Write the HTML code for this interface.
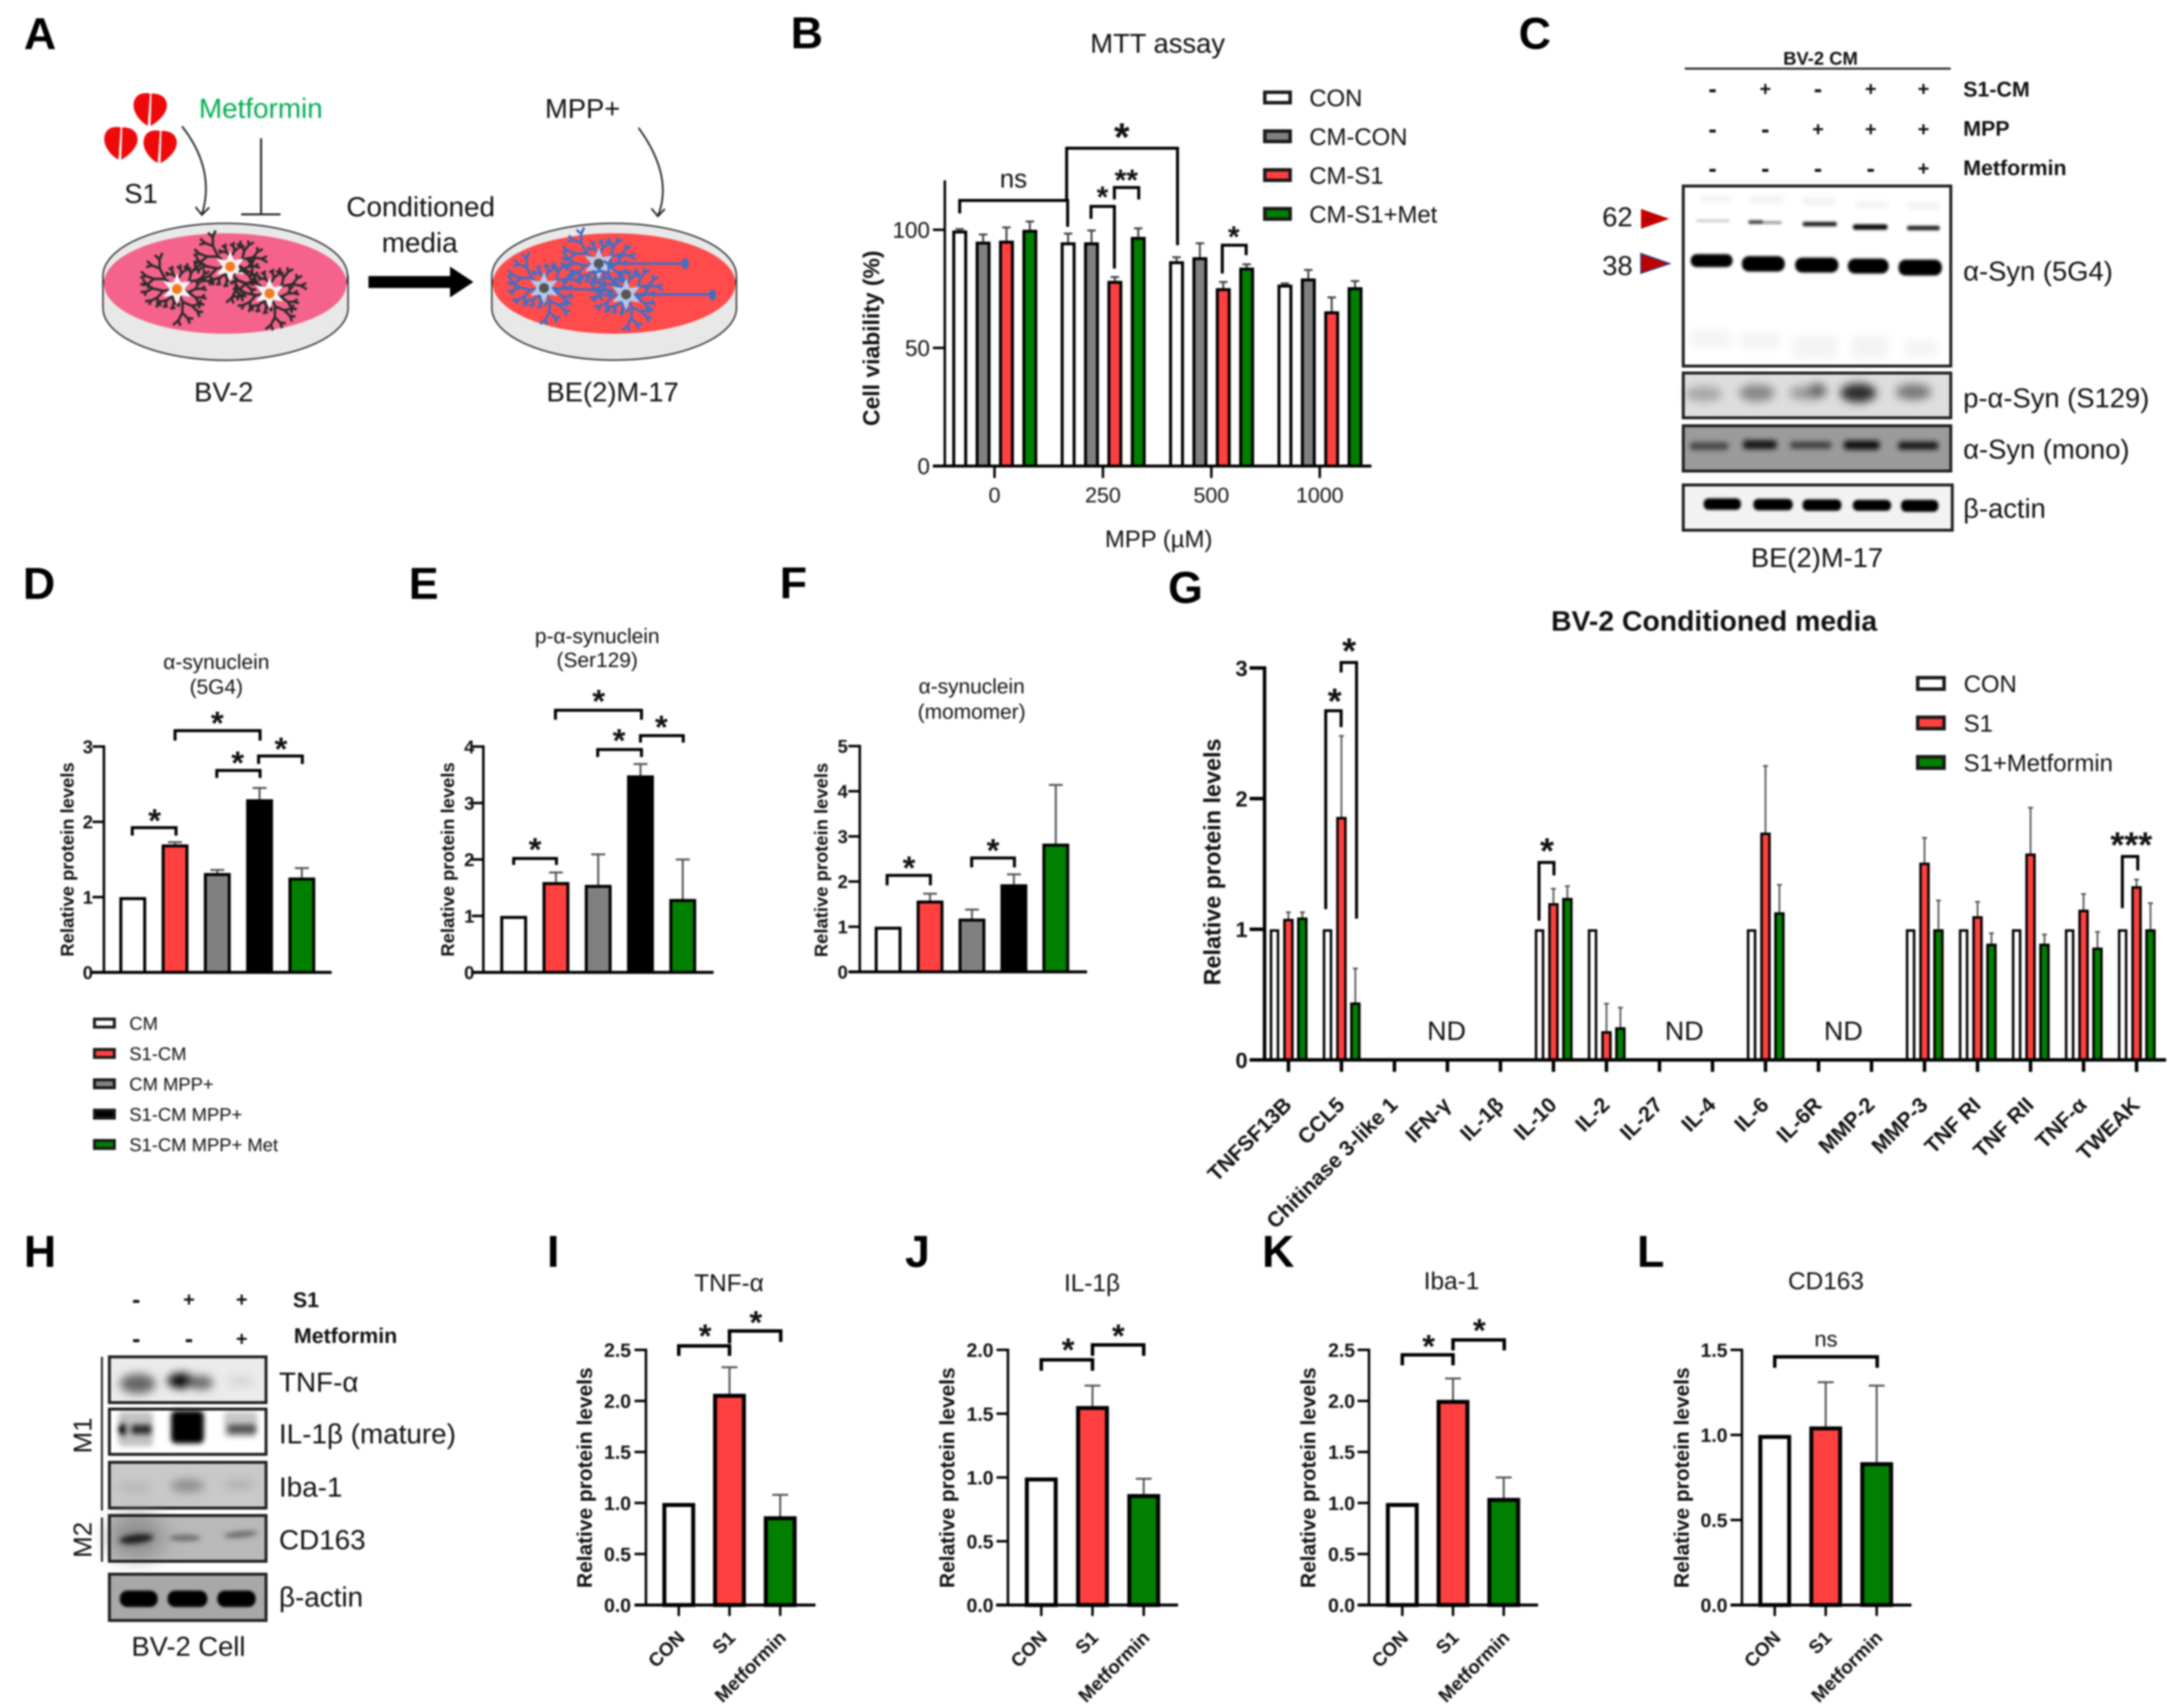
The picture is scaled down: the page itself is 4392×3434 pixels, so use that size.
<!DOCTYPE html>
<html lang="en">
<head>
<meta charset="utf-8">
<title>Metformin and S1 conditioned media figure</title>
<style>
html,body{margin:0;padding:0;background:#fff;}
svg#figure{display:block;font-family:"Liberation Sans",sans-serif;fill:#111;filter:blur(1.8px);}
.reg{font-size:55px;}
.bld{font-weight:bold;}
.letter{font-size:90px;font-weight:bold;fill:#000;}
.mid{text-anchor:middle;}
.frame{fill:none;stroke:#222;stroke-width:6;}
</style>
</head>
<body>
<svg id="figure" xmlns="http://www.w3.org/2000/svg" width="4392" height="3434" viewBox="0 0 4392 3434">
<defs>
<filter id="b2" x="-30%" y="-60%" width="160%" height="220%"><feGaussianBlur stdDeviation="2.5"/></filter>
<filter id="b5" x="-40%" y="-80%" width="180%" height="260%"><feGaussianBlur stdDeviation="5"/></filter>
<filter id="b9" x="-50%" y="-100%" width="200%" height="300%"><feGaussianBlur stdDeviation="9"/></filter>
<filter id="b20" x="-50%" y="-100%" width="200%" height="300%"><feGaussianBlur stdDeviation="20"/></filter>
</defs>
<rect x="0" y="0" width="4392" height="3434" fill="#fff"/>

<g>
<text class="letter" x="48" y="99">A</text>
<text class="letter" x="1590" y="97">B</text>
<text class="letter" x="3054" y="98">C</text>
<text class="letter" x="46" y="1204">D</text>
<text class="letter" x="822" y="1204">E</text>
<text class="letter" x="1568" y="1203">F</text>
<text class="letter" x="2349" y="1212">G</text>
<text class="letter" x="48" y="2547">H</text>
<text class="letter" x="1100" y="2547">I</text>
<text class="letter" x="1820" y="2547">J</text>
<text class="letter" x="2538" y="2547">K</text>
<text class="letter" x="3292" y="2547">L</text>
</g>

<!-- PANEL A -->
<g id="panelA">
  <g fill="#ee0a0a">
    <g transform="translate(301,220) rotate(4)">
      <path d="M-1.5,-32 C-20,-34 -33,-26 -33,-8 C-33,8 -18,26 -1.5,33 Z"/><path d="M1.5,-32 C20,-34 34,-26 34,-8 C34,8 16,26 4,33 Z"/>
    </g>
    <g transform="translate(242,288) rotate(4)">
      <path d="M-1.5,-32 C-20,-34 -33,-26 -33,-8 C-33,8 -18,26 -1.5,33 Z"/><path d="M1.5,-32 C20,-34 34,-26 34,-8 C34,8 16,26 4,33 Z"/>
    </g>
    <g transform="translate(321,295) rotate(4)">
      <path d="M-1.5,-32 C-20,-34 -33,-26 -33,-8 C-33,8 -18,26 -1.5,33 Z"/><path d="M1.5,-32 C20,-34 34,-26 34,-8 C34,8 16,26 4,33 Z"/>
    </g>
  </g>
  <text x="250" y="408" font-size="55">S1</text>
  <text x="400" y="237" font-size="56" fill="#00b050" style="fill:#00b050">Metformin</text>
  <text x="1096" y="237" font-size="55">MPP+</text>
  <path d="M366,254 C410,310 425,370 406,431 M393,416 L406,432 L421,417" fill="none" stroke="#222" stroke-width="3.5"/>
  <path d="M525,278 V431 M485,431 H564" fill="none" stroke="#222" stroke-width="4"/>
  <path d="M1284,257 C1330,320 1345,380 1323,434 M1310,419 L1323,435 L1337,420" fill="none" stroke="#222" stroke-width="3.5"/>
  <g>
    <path d="M207,555 V619 A246,105 0 0 0 700,619 V555 Z" fill="#e8e8e8" stroke="#333" stroke-width="3"/>
    <ellipse cx="453" cy="555" rx="246" ry="106" fill="#e8e8e8" stroke="#333" stroke-width="3"/>
    <ellipse cx="453" cy="570" rx="244" ry="101" fill="#f5638c"/>
    <g id="microglia"></g>
  </g>
  <g>
    <path d="M989,555 V619 A246,105 0 0 0 1481,619 V555 Z" fill="#e8e8e8" stroke="#333" stroke-width="3"/>
    <ellipse cx="1235" cy="555" rx="246" ry="106" fill="#e8e8e8" stroke="#333" stroke-width="3"/>
    <ellipse cx="1235" cy="570" rx="244" ry="101" fill="#ff4b4b"/>
    <g id="neurons"></g>
  </g>
  <path d="M741,555 H905 V536 L952,567 L905,598 V579 H741 Z" fill="#000"/>
  <text class="mid" x="846" y="435" font-size="56">Conditioned</text>
  <text class="mid" x="844" y="507" font-size="56">media</text>
  <text class="mid" x="450" y="807" font-size="55">BV-2</text>
  <text class="mid" x="1232" y="807" font-size="55">BE(2)M-17</text>
</g>

<!-- PANEL B static -->
<g id="panelB">
  <text class="mid" x="2328" y="106" font-size="55">MTT assay</text>
  <text class="mid" x="2330" y="1100" font-size="48">MPP (µM)</text>
  <text class="mid bld" transform="translate(1768,680) rotate(-90)" font-size="46">Cell viability (%)</text>
</g>

<!-- PANEL C -->
<g id="panelC">
  <text class="mid bld" x="3661" y="130" font-size="37">BV-2 CM</text>
  <line x1="3388" x2="3923" y1="138" y2="138" stroke="#222" stroke-width="4"/>
  <text class="bld" x="3948" y="194" font-size="43">S1-CM</text>
  <text class="bld" x="3948" y="273" font-size="43">MPP</text>
  <text class="bld" x="3948" y="352" font-size="43">Metformin</text>
  <g id="cSigns"></g>

  <g>
    <rect x="3385" y="374" width="538" height="362" fill="#fff"/>
    <g filter="url(#b5)" fill="#f1f1f1">
      <rect x="3420" y="394" width="60" height="12"/><rect x="3520" y="394" width="66" height="14"/><rect x="3625" y="398" width="66" height="14"/><rect x="3730" y="406" width="66" height="12"/><rect x="3835" y="408" width="66" height="12"/>
    </g>
    <g filter="url(#b9)" fill="#f3f3f3">
      <rect x="3398" y="665" width="82" height="32"/><rect x="3500" y="670" width="80" height="30"/><rect x="3605" y="675" width="90" height="45"/><rect x="3725" y="675" width="72" height="45"/><rect x="3830" y="685" width="66" height="30"/>
    </g>
    <g filter="url(#b2)">
      <rect x="3412" y="442" width="66" height="4" fill="#bbb"/>
      <rect x="3516" y="443" width="30" height="7" rx="3" fill="#333"/>
      <rect x="3546" y="445" width="37" height="5" rx="2" fill="#888"/>
      <rect x="3625" y="446" width="69" height="9" rx="4" fill="#222"/>
      <rect x="3726" y="451" width="70" height="11" rx="5" fill="#0c0c0c"/>
      <rect x="3835" y="454" width="66" height="9" rx="4" fill="#222"/>
    </g>
    <g filter="url(#b2)" fill="#000">
      <rect x="3400" y="511" width="84" height="26" rx="12"/>
      <rect x="3503" y="515" width="86" height="31" rx="14"/>
      <rect x="3610" y="518" width="87" height="30" rx="14"/>
      <rect x="3716" y="520" width="82" height="30" rx="14"/>
      <rect x="3818" y="522" width="87" height="32" rx="14"/>
    </g>
    <rect class="frame" x="3385" y="374" width="538" height="362"/>
  </g>
  <g>
    <rect x="3385" y="750" width="538" height="90" fill="#dedede"/>
    <g filter="url(#b9)">
      <ellipse cx="3426" cy="792" rx="38" ry="15" fill="#a5a5a5"/>
      <ellipse cx="3533" cy="790" rx="36" ry="17" fill="#858585"/>
      <ellipse cx="3635" cy="790" rx="38" ry="14" fill="#999"/>
      <ellipse cx="3655" cy="785" rx="18" ry="14" fill="#666"/>
      <ellipse cx="3737" cy="790" rx="36" ry="19" fill="#2a2a2a"/>
      <ellipse cx="3848" cy="788" rx="36" ry="16" fill="#777"/>
    </g>
    <rect class="frame" x="3385" y="750" width="538" height="90"/>
  </g>
  <g>
    <rect x="3385" y="856" width="538" height="91" fill="#9b9b9b"/>
    <g filter="url(#b5)">
      <rect x="3398" y="889" width="78" height="16" rx="7" fill="#4a4a4a"/>
      <rect x="3505" y="885" width="68" height="18" rx="7" fill="#181818"/>
      <rect x="3600" y="888" width="83" height="14" rx="6" fill="#3c3c3c"/>
      <rect x="3708" y="886" width="72" height="18" rx="7" fill="#111"/>
      <rect x="3817" y="888" width="81" height="16" rx="7" fill="#181818"/>
    </g>
    <rect class="frame" x="3385" y="856" width="538" height="91"/>
  </g>
  <g>
    <rect x="3385" y="975" width="541" height="91" fill="#f2f2f2"/>
    <g filter="url(#b2)" fill="#050505">
      <rect x="3426" y="1002" width="75" height="23" rx="10"/>
      <rect x="3526" y="1003" width="79" height="23" rx="10"/>
      <rect x="3625" y="1004" width="78" height="23" rx="10"/>
      <rect x="3726" y="1005" width="77" height="22" rx="10"/>
      <rect x="3823" y="1005" width="75" height="24" rx="10"/>
    </g>
    <rect class="frame" x="3385" y="975" width="541" height="91"/>
  </g>
  <text x="3222" y="455" font-size="55">62</text>
  <text x="3222" y="553" font-size="55">38</text>
  <path d="M3300,420 L3357,440 L3300,460 Z" fill="#c00000"/>
  <path d="M3300,510 L3357,530 L3300,549 Z" fill="#c00000" stroke="#333a70" stroke-width="3"/>
  <text x="3948" y="564" font-size="55">α-Syn (5G4)</text>
  <text x="3948" y="819" font-size="55">p-α-Syn (S129)</text>
  <text x="3948" y="922" font-size="55">α-Syn (mono)</text>
  <text x="3948" y="1041" font-size="55">β-actin</text>
  <text class="mid" x="3654" y="1140" font-size="55">BE(2)M-17</text>
</g>

<!-- PANEL D/E/F titles -->
<g>
  <text class="mid" x="435" y="1345" font-size="42">α-synuclein</text>
  <text class="mid" x="435" y="1395" font-size="42">(5G4)</text>
</g>
<g>
  <text class="mid" x="1201" y="1293" font-size="42">p-α-synuclein</text>
  <text class="mid" x="1201" y="1341" font-size="42">(Ser129)</text>
</g>
<g>
  <text class="mid" x="1954" y="1394" font-size="42">α-synuclein</text>
  <text class="mid" x="1954" y="1445" font-size="42">(momomer)</text>
</g>
<text class="mid bld" x="3447" y="1268" font-size="57">BV-2 Conditioned media</text>

<!-- PANEL H -->
<g id="panelH">
  <g id="hSigns"></g>
  <text class="bld" x="589" y="2628" font-size="43">S1</text>
  <text class="bld" x="591" y="2700" font-size="43">Metformin</text>
  <g>
    <rect x="220" y="2728" width="315" height="92" fill="#ebebeb"/>
    <g filter="url(#b9)">
      <ellipse cx="277" cy="2782" rx="36" ry="20" fill="#666"/>
      <ellipse cx="365" cy="2776" rx="28" ry="15" fill="#000"/>
      <ellipse cx="405" cy="2780" rx="24" ry="14" fill="#666"/>
      <ellipse cx="484" cy="2777" rx="28" ry="10" fill="#d4d4d4"/>
    </g>
    <rect class="frame" x="220" y="2728" width="315" height="92"/>
  </g>
  <g>
    <rect x="220" y="2833" width="315" height="91" fill="#fff"/>
    <g filter="url(#b5)">
      <rect x="238" y="2838" width="70" height="70" rx="10" fill="#c2c2c2"/>
      <rect x="238" y="2860" width="18" height="28" rx="8" fill="#000"/>
      <rect x="262" y="2862" width="44" height="24" rx="8" fill="#333"/>
      <rect x="344" y="2836" width="66" height="66" rx="10" fill="#050505"/>
      <rect x="450" y="2838" width="68" height="52" rx="10" fill="#c8c8c8"/>
      <rect x="456" y="2862" width="60" height="22" rx="10" fill="#5a5a5a"/>
    </g>
    <rect class="frame" x="220" y="2833" width="315" height="91"/>
  </g>
  <g>
    <rect x="220" y="2940" width="315" height="92" fill="#c9c9c9"/>
    <g filter="url(#b9)">
      <ellipse cx="273" cy="2990" rx="36" ry="9" fill="#b4b4b4"/>
      <ellipse cx="377" cy="2987" rx="34" ry="13" fill="#8c8c8c"/>
      <ellipse cx="481" cy="2985" rx="32" ry="9" fill="#aeaeae"/>
    </g>
    <rect class="frame" x="220" y="2940" width="315" height="92"/>
  </g>
  <g>
    <rect x="220" y="3047" width="315" height="92" fill="#b9b9b9"/>
    <ellipse cx="275" cy="3090" rx="55" ry="42" fill="#8d8d8d" filter="url(#b20)"/>
    <g filter="url(#b5)">
      <ellipse cx="274" cy="3094" rx="34" ry="9" fill="#1c1c1c" transform="rotate(-6 274 3094)"/>
      <ellipse cx="372" cy="3092" rx="32" ry="6" fill="#666"/>
      <ellipse cx="484" cy="3085" rx="34" ry="6" fill="#666" transform="rotate(-5 484 3085)"/>
    </g>
    <rect class="frame" x="220" y="3047" width="315" height="92"/>
  </g>
  <g>
    <rect x="220" y="3165" width="315" height="93" fill="#a8a8a8"/>
    <g filter="url(#b2)" fill="#040404">
      <rect x="241" y="3198" width="76" height="33" rx="15"/>
      <rect x="337" y="3198" width="80" height="33" rx="15"/>
      <rect x="437" y="3198" width="77" height="33" rx="15"/>
    </g>
    <rect class="frame" x="220" y="3165" width="315" height="93"/>
  </g>
  <line x1="205" x2="205" y1="2728" y2="3037" stroke="#222" stroke-width="4"/>
  <line x1="205" x2="205" y1="3051" y2="3140" stroke="#222" stroke-width="4"/>
  <text class="mid" transform="translate(184,2886) rotate(-90)" font-size="52">M1</text>
  <text class="mid" transform="translate(184,3096) rotate(-90)" font-size="52">M2</text>
  <text x="561" y="2798" font-size="56">TNF-α</text>
  <text x="561" y="2902" font-size="56">IL-1β (mature)</text>
  <text x="561" y="3009" font-size="56">Iba-1</text>
  <text x="561" y="3115" font-size="56">CD163</text>
  <text x="561" y="3230" font-size="56">β-actin</text>
  <text class="mid" x="379" y="3329" font-size="55">BV-2 Cell</text>
</g>

<g id="charts"></g>
</svg>

<script>
/* ---------- chart data ---------- */
const bCategories = ['0','250','500','1000'];
const bSeriesNames = ['CON','CM-CON','CM-S1','CM-S1+Met'];
const bCon = [99.7,94.7,86.7,76.8];
const bCmCon = [95,94.7,88.4,79.4];
const bCmS1 = [95.4,78.4,75.3,65.5];
const bCmS1Met = [100,97,84,75.7];
const bConErr = [0.6,3.7,1.7,0.5];
const bCmConErr = [3,5,5.9,3.6];
const bCmS1Err = [5.6,1.6,2.6,5.9];
const bCmS1MetErr = [3.5,3.6,1.4,2.6];
const bTicks = [0,50,100];

const dCategories = ['CM','S1-CM','CM MPP+','S1-CM MPP+','S1-CM MPP+ Met'];
const dValues = [1,1.7,1.32,2.3,1.26];
const dErrors = [0,0.03,0.04,0.15,0.125];
const dTicks = [0,1,2,3];

const eValues = [1,1.6,1.55,3.49,1.3];
const eErrors = [0,0.17,0.54,0.2,0.7];
const eTicks = [0,1,2,3,4];

const fValues = [1,1.58,1.18,1.94,2.84];
const fErrors = [0,0.15,0.2,0.22,1.3];
const fTicks = [0,1,2,3,4,5];

const gCategories = ['TNFSF13B','CCL5','Chitinase 3-like 1','IFN-γ','IL-1β','IL-10','IL-2','IL-27','IL-4','IL-6','IL-6R','MMP-2','MMP-3','TNF RI','TNF RII','TNF-α','TWEAK'];
const gSeriesNames = ['CON','S1','S1+Metformin'];
const gCon = [1,1,null,null,null,1,1,null,null,1,null,null,1,1,1,1,1];
const gS1 = [1.08,1.86,null,null,null,1.2,0.22,null,null,1.74,null,null,1.51,1.1,1.58,1.15,1.33];
const gMet = [1.09,0.44,null,null,null,1.24,0.25,null,null,1.13,null,null,1,0.89,0.89,0.86,1];
const gS1Err = [0.05,0.62,null,null,null,0.11,0.21,null,null,0.51,null,null,0.19,0.11,0.35,0.12,0.05];
const gMetErr = [0.04,0.26,null,null,null,0.09,0.15,null,null,0.21,null,null,0.22,0.08,0.07,0.12,0.2];
const gTicks = [0,1,2,3];

const xCategories = ['CON','S1','Metformin'];
const iValues = [1,2.07,0.87];
const iErrors = [0,0.26,0.21];
const iTicks = [0,0.5,1,1.5,2,2.5];
const iTickLabels = ['0.0','0.5','1.0','1.5','2.0','2.5'];

const jValues = [1,1.56,0.87];
const jErrors = [0,0.16,0.12];
const jTicks = [0,0.5,1,1.5,2];
const jTickLabels = ['0.0','0.5','1.0','1.5','2.0'];

const kValues = [1,2.01,1.05];
const kErrors = [0,0.21,0.2];
const kTicks = [0,0.5,1,1.5,2,2.5];
const kTickLabels = ['0.0','0.5','1.0','1.5','2.0','2.5'];

const lValues = [1,1.05,0.84];
const lErrors = [0,0.26,0.45];
const lTicks = [0,0.5,1,1.5];
const lTickLabels = ['0.0','0.5','1.0','1.5'];

const cS1Signs = ['-','+','-','+','+'];
const cMppSigns = ['-','-','+','+','+'];
const cMetSigns = ['-','-','-','-','+'];
const hS1Signs = ['-','+','+'];
const hMetSigns = ['-','-','+'];

/* ---------- helpers ---------- */
const NS = 'http://www.w3.org/2000/svg';
const RED = '#ff4040', GRAY = '#808080', GREEN = '#007f00', BLACK = '#000000', WHITE = '#ffffff';
function add(parent, tag, attrs) {
  const e = document.createElementNS(NS, tag);
  for (const k in attrs) e.setAttribute(k, attrs[k]);
  parent.appendChild(e);
  return e;
}
function linearAxis(pxAtZero, pxAtMax, max) {
  return function (v) { return pxAtZero - (pxAtZero - pxAtMax) * v / max; };
}
function bandAxis(first, step) {
  return function (i) { return first + step * i; };
}
const chartLayer = document.getElementById('charts');
function panel(name) {
  const g = add(chartLayer, 'g', {});
  
  
  return g;
}
function drawBar(g, cx, width, yVal, y0, fill, sw, name) {
  const r = add(g, 'rect', {x: cx - width / 2 + sw / 2, y: yVal + sw / 2, width: width - sw, height: Math.max(0, y0 - yVal - sw / 2), fill: fill, stroke: '#000', 'stroke-width': sw});
  
  
}
function drawError(g, cx, yVal, yTop, capW, sw, color, name) {
  const p = add(g, 'path', {d: 'M' + cx + ' ' + yVal + 'V' + yTop + 'M' + (cx - capW / 2) + ' ' + yTop + 'H' + (cx + capW / 2), stroke: color, 'stroke-width': sw, fill: 'none'});
  
  
}
function drawYAxis(g, ax, y, ticks, labels, opt) {
  const top = opt.top === undefined ? y(ticks[ticks.length - 1]) : opt.top;
  const axis = add(g, 'line', {x1: ax, x2: ax, y1: top - opt.sw / 2, y2: y(0), stroke: '#000', 'stroke-width': opt.sw});
  
  
  ticks.forEach(function (t, i) {
    const tick = add(g, 'line', {x1: ax - opt.tickLen, x2: ax, y1: y(t), y2: y(t), stroke: '#000', 'stroke-width': opt.sw});
    
    
    const label = add(g, 'text', {x: opt.labelX, y: y(t) + opt.fs * 0.36, 'font-size': opt.fs, 'text-anchor': 'end', 'font-weight': opt.weight});
    label.textContent = labels[i];
    
    
  });
}
function drawXAxisLine(g, xStart, xEnd, y0, sw) {
  const axis = add(g, 'line', {x1: xStart, x2: xEnd, y1: y0, y2: y0, stroke: '#000', 'stroke-width': sw});
  
  
}
function drawXTick(g, x, y0, len, sw) {
  const tick = add(g, 'line', {x1: x, x2: x, y1: y0, y2: y0 + len, stroke: '#000', 'stroke-width': sw});
  
  
}
function yTitle(g, x, y, fs) {
  const t = add(g, 'text', {transform: 'translate(' + x + ',' + y + ') rotate(-90)', 'font-size': fs, 'font-weight': 'bold', 'text-anchor': 'middle'});
  t.textContent = 'Relative protein levels';
  
  
}
function slantLabel(g, x, y, fs, txt) {
  const t = add(g, 'text', {transform: 'translate(' + x + ',' + y + ') rotate(-45)', 'font-size': fs, 'font-weight': 'bold', 'text-anchor': 'end'});
  t.textContent = txt;
  
  
}
function bracket(g, x1, x2, y, yL, yR, sw) {
  const p = add(g, 'path', {d: 'M' + x1 + ' ' + yL + 'V' + y + 'H' + x2 + 'V' + yR, fill: 'none', stroke: '#000', 'stroke-width': sw});
  
  
}
function star(g, cx, cy, fs, txt) {
  const t = add(g, 'text', {x: cx, y: cy + fs * 0.49, 'font-size': fs, 'font-weight': 'bold', 'text-anchor': 'middle'});
  t.textContent = txt;
  
  
}
function nsLabel(g, cx, y, fs) {
  const t = add(g, 'text', {x: cx, y: y, 'font-size': fs, 'text-anchor': 'middle'});
  t.textContent = 'ns';
  
  
}
function legendEntry(g, x, y, w, h, fill, sw, textX, fs, txt) {
  const swatch = add(g, 'rect', {x: x + sw / 2, y: y - h / 2 + sw / 2, width: w - sw, height: h - sw, fill: fill, stroke: '#1a1a1a', 'stroke-width': sw});
  
  
  const t = add(g, 'text', {x: textX, y: y + fs * 0.36, 'font-size': fs});
  t.textContent = txt;
  
  
}
function simpleChart(g, c) {
  const y = linearAxis(c.y0, c.yTop, c.ticks[c.ticks.length - 1]);
  const x = bandAxis(c.x0, c.dx);
  c.values.forEach(function (v, i) {
    if (c.errors[i] > 0) drawError(g, x(i), y(v), y(v + c.errors[i]), c.capW, 4, '#555', 'error-bar');
    drawBar(g, x(i), c.barW, y(v), c.y0, c.fills[i], c.sw, 'bar-' + i);
  });
  drawYAxis(g, c.ax, y, c.ticks, c.labels, {tickLen: 23, sw: 5, fs: c.fs, weight: 'bold', labelX: c.labelX});
  drawXAxisLine(g, c.xStart, c.xEnd, c.y0, 6);
  if (c.categories) {
    c.categories.forEach(function (cat, i) {
      drawXTick(g, x(i), c.y0, 22, 5);
      slantLabel(g, x(i) + 14, c.y0 + 68, 38, cat);
    });
  }
  yTitle(g, c.titleX, c.titleY, c.titleFs);
}

/* ---------- panel B ---------- */
(function () {
  const g = panel('panel-b-bars');
  const y = linearAxis(937, 462, 100);
  const groupX = bandAxis(2000, 218);
  const offsets = [-70, -23, 24, 71];
  const series = [bCon, bCmCon, bCmS1, bCmS1Met];
  const errs = [bConErr, bCmConErr, bCmS1Err, bCmS1MetErr];
  const fills = [WHITE, GRAY, RED, GREEN];
  bCategories.forEach(function (cat, gi) {
    series.forEach(function (s, si) {
      const cx = groupX(gi) + offsets[si];
      drawError(g, cx, y(s[gi]), y(s[gi] + errs[si][gi]), 17, 4, '#444', 'error-bar');
      drawBar(g, cx, 30, y(s[gi]), 937, fills[si], 6, 'bar-' + bSeriesNames[si] + '-' + cat);
    });
    drawXTick(g, groupX(gi), 937, 24, 5);
    const label = add(g, 'text', {x: groupX(gi), y: 1010, 'font-size': 43, 'text-anchor': 'middle'});
    label.textContent = cat;
    
    
  });
  drawYAxis(g, 1900, y, bTicks, bTicks.map(String), {top: 365, tickLen: 24, sw: 5, fs: 45, weight: 'normal', labelX: 1870});
  drawXAxisLine(g, 1876, 2758, 937, 6);
  bracket(g, 1930, 2147, 403, 429, 456, 6);
  nsLabel(g, 2038, 377, 52);
  bracket(g, 2145, 2368, 298, 400, 493, 6);
  star(g, 2256, 264, 80, '*');
  bracket(g, 2194, 2241, 415, 440, 540, 6);
  star(g, 2217, 387, 60, '*');
  bracket(g, 2241, 2290, 377, 401, 401, 6);
  star(g, 2265, 353, 60, '**');
  bracket(g, 2458, 2506, 493, 550, 513, 6);
  star(g, 2481, 467, 60, '*');
  bSeriesNames.forEach(function (n, i) {
    legendEntry(g, 2540, bandAxis(196, 78)(i), 58, 28, fills[i], 7, 2633, 48, n);
  });
})();

/* ---------- panel D ---------- */
(function () {
  const g = panel('panel-d-chart');
  const fills = [WHITE, RED, GRAY, BLACK, GREEN];
  simpleChart(g, {values: dValues, errors: dErrors, ticks: dTicks, labels: dTicks.map(String), y0: 1955, yTop: 1501, x0: 267, dx: 85, barW: 54, sw: 6, capW: 28, fills: fills, ax: 209, xStart: 184, xEnd: 667, fs: 37, labelX: 187, titleX: 148, titleY: 1728, titleFs: 37});
  bracket(g, 266, 354, 1664, 1680, 1680, 6);
  star(g, 311, 1640, 66, '*');
  bracket(g, 352, 523, 1469, 1489, 1489, 6);
  star(g, 437, 1444, 66, '*');
  bracket(g, 436, 523, 1549, 1564, 1564, 6);
  star(g, 478, 1524, 66, '*');
  bracket(g, 520, 608, 1520, 1536, 1536, 6);
  star(g, 565, 1496, 66, '*');
  dCategories.forEach(function (n, i) {
    legendEntry(g, 187, bandAxis(2057, 61)(i), 46, 22, fills[i], 6, 260, 37, n);
  });
})();

/* ---------- panel E ---------- */
(function () {
  const g = panel('panel-e-chart');
  simpleChart(g, {values: eValues, errors: eErrors, ticks: eTicks, labels: eTicks.map(String), y0: 1955, yTop: 1501, x0: 1033, dx: 85, barW: 54, sw: 6, capW: 28, fills: [WHITE, RED, GRAY, BLACK, GREEN], ax: 972, xStart: 949, xEnd: 1435, fs: 37, labelX: 954, titleX: 913, titleY: 1728, titleFs: 37});
  bracket(g, 1033, 1119, 1726, 1739, 1739, 6);
  star(g, 1076, 1698, 66, '*');
  bracket(g, 1117, 1290, 1428, 1447, 1447, 6);
  star(g, 1204, 1400, 66, '*');
  bracket(g, 1202, 1290, 1507, 1522, 1522, 6);
  star(g, 1245, 1479, 66, '*');
  bracket(g, 1288, 1374, 1479, 1493, 1493, 6);
  star(g, 1330, 1452, 66, '*');
})();

/* ---------- panel F ---------- */
(function () {
  const g = panel('panel-f-chart');
  simpleChart(g, {values: fValues, errors: fErrors, ticks: fTicks, labels: fTicks.map(String), y0: 1954, yTop: 1500, x0: 1786, dx: 84.3, barW: 54, sw: 6, capW: 28, fills: [WHITE, RED, GRAY, BLACK, GREEN], ax: 1729, xStart: 1708, xEnd: 2186, fs: 37, labelX: 1705, titleX: 1664, titleY: 1729, titleFs: 37});
  bracket(g, 1784, 1871, 1760, 1780, 1780, 6);
  star(g, 1828, 1735, 66, '*');
  bracket(g, 1954, 2040, 1725, 1744, 1744, 6);
  star(g, 1997, 1700, 66, '*');
})();

/* ---------- panel G ---------- */
(function () {
  const g = panel('panel-g-cytokine-chart');
  const y = linearAxis(2131, 1343, 3);
  const x = bandAxis(2591, 106.6);
  const fills = [WHITE, RED, GREEN];
  gCategories.forEach(function (cat, i) {
    if (gCon[i] !== null) {
      drawBar(g, x(i) - 28, 19, y(gCon[i]), 2131, fills[0], 5, 'bar-con-' + cat);
      drawError(g, x(i), y(gS1[i]), y(gS1[i] + gS1Err[i]), 10, 3.5, '#555', 'error-bar');
      drawBar(g, x(i), 21, y(gS1[i]), 2131, fills[1], 5, 'bar-s1-' + cat);
      drawError(g, x(i) + 28, y(gMet[i]), y(gMet[i] + gMetErr[i]), 10, 3.5, '#555', 'error-bar');
      drawBar(g, x(i) + 28, 21, y(gMet[i]), 2131, fills[2], 5, 'bar-metformin-' + cat);
    }
    drawXTick(g, x(i), 2131, 24, 7);
    slantLabel(g, x(i) + 9, 2224, 43, cat);
  });
  drawYAxis(g, 2543, y, gTicks, gTicks.map(String), {tickLen: 30, sw: 7, fs: 44, weight: 'bold', labelX: 2509});
  drawXAxisLine(g, 2513, 4356, 2131, 7);
  yTitle(g, 2454, 1733, 47);
  bracket(g, 2666, 2697, 1429, 1828, 1462, 6);
  star(g, 2684, 1399, 72, '*');
  bracket(g, 2697, 2728, 1332, 1352, 1847, 6);
  star(g, 2713, 1298, 72, '*');
  bracket(g, 3095, 3125, 1734, 1851, 1760, 6);
  star(g, 3111, 1700, 72, '*');
  bracket(g, 4268, 4299, 1722, 1826, 1750, 6);
  star(g, 4286, 1688, 72, '***');
  [2909, 3387, 3707].forEach(function (cx) {
    const nd = add(g, 'text', {x: cx, y: 2091, 'font-size': 54, 'text-anchor': 'middle'});
    nd.textContent = 'ND';
    
    
  });
  gSeriesNames.forEach(function (n, i) {
    legendEntry(g, 3853, bandAxis(1374, 79.5)(i), 60, 30, fills[i], 7, 3949, 48, n);
  });
})();

/* ---------- panels I-L ---------- */
(function () {
  const fills = [WHITE, RED, GREEN];
  const g = panel('panel-i-tnf-alpha-chart');
  simpleChart(g, {values: iValues, errors: iErrors, ticks: iTicks, labels: iTickLabels, categories: xCategories, y0: 3227, yTop: 2714, x0: 1365, dx: 102, barW: 66, sw: 8, capW: 32, fills: fills, ax: 1299, xStart: 1276, xEnd: 1640, fs: 39, labelX: 1269, titleX: 1190, titleY: 2971, titleFs: 42});
  bracket(g, 1365, 1467, 2706, 2726, 2726, 7);
  star(g, 1418, 2676, 66, '*');
  bracket(g, 1467, 1570, 2676, 2701, 2698, 7);
  star(g, 1520, 2649, 66, '*');
  const t = add(g, 'text', {x: 1466, y: 2596, 'font-size': 49, 'text-anchor': 'middle'});
  t.textContent = 'TNF-α';
  
  

  const h = panel('panel-j-il-1b-chart');
  simpleChart(h, {values: jValues, errors: jErrors, ticks: jTicks, labels: jTickLabels, categories: xCategories, y0: 3227, yTop: 2714, x0: 2094, dx: 103, barW: 66, sw: 8, capW: 32, fills: fills, ax: 2027, xStart: 2003, xEnd: 2369, fs: 39, labelX: 1998, titleX: 1919, titleY: 2971, titleFs: 42});
  bracket(h, 2094, 2197, 2734, 2756, 2756, 7);
  star(h, 2148, 2704, 66, '*');
  bracket(h, 2197, 2300, 2704, 2726, 2726, 7);
  star(h, 2249, 2676, 66, '*');
  const tj = add(h, 'text', {x: 2196, y: 2596, 'font-size': 49, 'text-anchor': 'middle'});
  tj.textContent = 'IL-1β';
  
  

  const k = panel('panel-k-iba-1-chart');
  simpleChart(k, {values: kValues, errors: kErrors, ticks: kTicks, labels: kTickLabels, categories: xCategories, y0: 3227, yTop: 2714, x0: 2820, dx: 102, barW: 66, sw: 8, capW: 32, fills: fills, ax: 2753, xStart: 2730, xEnd: 3093, fs: 39, labelX: 2725, titleX: 2645, titleY: 2971, titleFs: 42});
  bracket(k, 2820, 2922, 2724, 2745, 2745, 7);
  star(k, 2873, 2697, 66, '*');
  bracket(k, 2922, 3025, 2694, 2715, 2715, 7);
  star(k, 2975, 2665, 66, '*');
  const tk = add(k, 'text', {x: 2919, y: 2592, 'font-size': 49, 'text-anchor': 'middle'});
  tk.textContent = 'Iba-1';
  
  

  const l = panel('panel-l-cd163-chart');
  simpleChart(l, {values: lValues, errors: lErrors, ticks: lTicks, labels: lTickLabels, categories: xCategories, y0: 3227, yTop: 2714, x0: 3569, dx: 102.5, barW: 66, sw: 8, capW: 32, fills: fills, ax: 3503, xStart: 3480, xEnd: 3844, fs: 39, labelX: 3474, titleX: 3396, titleY: 2971, titleFs: 42});
  bracket(l, 3569, 3775, 2728, 2750, 2750, 7);
  nsLabel(l, 3672, 2707, 44);
  const tl = add(l, 'text', {x: 3672, y: 2592, 'font-size': 49, 'text-anchor': 'middle'});
  tl.textContent = 'CD163';
  
  
})();

/* ---------- treatment signs ---------- */
(function () {
  const cG = document.getElementById('cSigns');
  const hG = document.getElementById('hSigns');
  function signs(parent, arr, first, step, y, fs) {
    arr.forEach(function (s, i) {
      const size = s === '-' ? fs + 10 : fs;
      const t = add(parent, 'text', {x: first + step * i, y: y + size * 0.33, 'font-size': size, 'font-weight': 'bold', 'text-anchor': 'middle'});
      t.textContent = s;
      
      
    });
  }
  signs(cG, cS1Signs, 3444, 106, 179, 40);
  signs(cG, cMppSigns, 3444, 106, 260, 40);
  signs(cG, cMetSigns, 3444, 106, 339, 40);
  signs(hG, hS1Signs, 274, 106, 2613, 40);
  signs(hG, hMetSigns, 274, 106, 2692, 40);
})();

/* ---------- panel A cells ---------- */
(function () {
  function tree(x, y, a, len, depth) {
    const x2 = x + Math.cos(a) * len, y2 = y + Math.sin(a) * len * 0.9;
    let d = 'M' + x.toFixed(1) + ' ' + y.toFixed(1) + 'L' + x2.toFixed(1) + ' ' + y2.toFixed(1);
    if (depth > 0) {
      d += tree(x2, y2, a - 0.75, len * 0.68, depth - 1);
      d += tree(x2, y2, a + 0.4, len * 0.78, depth - 1);
    }
    return d;
  }
  function starPts(cx, cy, R, r, n) {
    const pts = [];
    for (let i = 0; i < n * 2; i++) {
      const rad = i % 2 ? r : R, a = Math.PI * i / n - Math.PI / 2;
      pts.push((cx + Math.cos(a) * rad).toFixed(1) + ',' + (cy + Math.sin(a) * rad).toFixed(1));
    }
    return pts.join(' ');
  }
  const primaryLengths = [24, 31, 19, 28, 33, 21, 29];
  function cell(parent, cx, cy, color, body, nucleus, sw, n) {
    let d = '';
    for (let i = 0; i < n; i++) d += tree(cx, cy, i * 2 * Math.PI / n + 0.3, primaryLengths[i % 7], 3);
    const p = add(parent, 'path', {d: d, stroke: color, 'stroke-width': sw, fill: 'none'});
    
    
    const s = add(parent, 'polygon', {points: starPts(cx, cy, 32, 15, 6), fill: body});
    
    
    const c = add(parent, 'circle', {cx: cx, cy: cy, r: 10, fill: nucleus});
    
    
  }
  const mg = document.getElementById('microglia');
  cell(mg, 356, 581, '#2b2b2b', '#f4f4f4', '#f47a20', 5, 7);
  cell(mg, 463, 536, '#2b2b2b', '#f4f4f4', '#f47a20', 5, 7);
  cell(mg, 542, 590, '#2b2b2b', '#f4f4f4', '#f47a20', 5, 7);
  const nr = document.getElementById('neurons');
  const axons = add(nr, 'path', {d: 'M1204 530H1378M1259 592H1433M1094 579L1234 584', stroke: '#3f6fc6', 'stroke-width': 5, fill: 'none'});
  
  
  [[1378, 530], [1433, 593]].forEach(function (pt) {
    const b = add(nr, 'ellipse', {cx: pt[0], cy: pt[1], rx: 7, ry: 11, fill: '#3f6fc6'});
    
    
  });
  cell(nr, 1094, 579, '#3f6fc6', '#b7c9ea', '#555', 5, 7);
  cell(nr, 1204, 530, '#3f6fc6', '#b7c9ea', '#555', 5, 7);
  cell(nr, 1259, 592, '#3f6fc6', '#b7c9ea', '#555', 5, 7);
})();
</script>
</body>
</html>
